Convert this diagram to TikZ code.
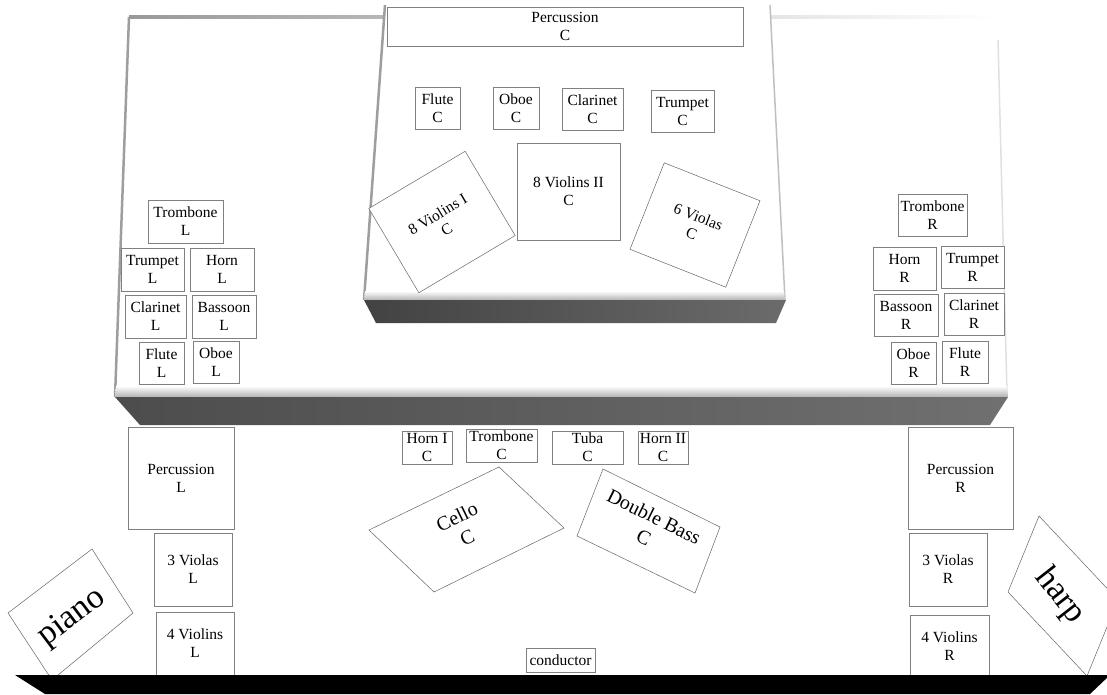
\documentclass[tikz,border=0pt]{standalone}
\usepackage{fontspec}
\setmainfont{Liberation Serif}
\usetikzlibrary{shapes.geometric}
\newcommand{\fnorm}{\fontsize{15.5}{18}\selectfont}
\newcommand{\fbig}{\fontsize{20}{23}\selectfont}
\newcommand{\fhuge}{\fontsize{34}{38}\selectfont}
\tikzset{
  inst/.style={draw=black!50, line width=0.7pt, fill=white, inner sep=0pt, align=center, font=\fnorm},
  rinst/.style={draw=black!60, line width=0.5pt, fill=white, inner sep=0pt, align=center, font=\fnorm},
  shape lines/.style={draw=black!60, line width=0.5pt, fill=white},
  label big/.style={inner sep=0pt, align=center, font=\fbig},
  label huge/.style={inner sep=0pt, align=center, font=\fhuge},
  edge dark/.style={draw=black!38, line width=2.5pt},
  edge light/.style={draw=black!12, line width=1.5pt}
}
\begin{document}
\begin{tikzpicture}[x=1pt,y=-1pt]
\useasboundingbox (0,0) rectangle (1107,694);
\clip (0,0) rectangle (1107,694);
\fill[white] (0,0) rectangle (1107,694);
% ---------- lower riser ----------
\coordinate (LT1) at (129,17);
\coordinate (RT1) at (997,17);
\coordinate (RB1) at (1008,397);
\coordinate (LB1) at (115,397);
\fill[white] (LT1) -- (RT1) -- (RB1) -- (LB1) -- cycle;
\shade[left color=black!40, right color=white] (129,15.5) rectangle (997,18.5);
\draw[edge dark] (LT1) -- (LB1);
\draw[edge light] (998,40) -- (1007,393);
\shade[top color=white, bottom color=black!30] (116,386) -- (1007,386) -- (1008,397) -- (115,397) -- cycle;
\shade[left color=black!70, right color=black!56] (115,397) -- (1008,397) -- (990,425) -- (140,425) -- cycle;
% ---------- upper riser ----------
\coordinate (LT2) at (385,5);
\coordinate (RT2) at (770,5);
\coordinate (RB2) at (785,300);
\coordinate (LB2) at (364,300);
\fill[white] (LT2) -- (RT2) -- (RB2) -- (LB2) -- cycle;
\draw[edge dark] (LT2) -- (LB2);
\draw[draw=black!25, line width=1.5pt] (RT2) -- (RB2);
\shade[top color=white, bottom color=black!30] (365,291) -- (784,291) -- (785,300) -- (364,300) -- cycle;
\shade[left color=black!74, right color=black!58] (364,300) -- (786,300) -- (776,323) -- (376,323) -- cycle;
% ---------- upper riser instruments ----------
\node[inst, minimum width=356pt, minimum height=39pt] (percC) at (565,26.5) {Percussion\\C};
\node[inst, minimum width=45pt, minimum height=42pt] (fluteC) at (437.5,108) {Flute\\C};
\node[inst, minimum width=46pt, minimum height=42pt] (oboeC) at (516,108) {Oboe\\C};
\node[inst, minimum width=61pt, minimum height=42pt] (clarC) at (592.5,109) {Clarinet\\C};
\node[inst, minimum width=63pt, minimum height=42pt] (trumpC) at (682.5,111) {Trumpet\\C};
\node[inst, minimum width=103pt, minimum height=97pt] (vlnIIC) at (568.5,191.5) {8 Violins II\\C};
\node[rinst, minimum width=112pt, minimum height=98pt, rotate=30.7] (vlnIC) at (442,222) {8 Violins I\\C};
\node[rinst, minimum width=103pt, minimum height=93pt, rotate=-21.6] (violasC) at (695,225) {6 Violas\\C};
% ---------- left winds ----------
\node[inst, minimum width=75pt, minimum height=43pt] (tromL) at (185.5,221.5) {Trombone\\L};
\node[inst, minimum width=63pt, minimum height=43pt] (trumpL) at (152.5,269.5) {Trumpet\\L};
\node[inst, minimum width=64pt, minimum height=43pt] (hornL) at (222,269.5) {Horn\\L};
\node[inst, minimum width=61pt, minimum height=43pt] (clarL) at (155.5,316.5) {Clarinet\\L};
\node[inst, minimum width=64pt, minimum height=43pt] (bassL) at (224,316.5) {Bassoon\\L};
\node[inst, minimum width=45pt, minimum height=42pt] (fluteL) at (161.5,363) {Flute\\L};
\node[inst, minimum width=46pt, minimum height=42pt] (oboeL) at (216,362) {Oboe\\L};
% ---------- right winds ----------
\node[inst, minimum width=69pt, minimum height=42pt] (tromR) at (932.5,215) {Trombone\\R};
\node[inst, minimum width=63pt, minimum height=43pt] (hornR) at (904.5,268.5) {Horn\\R};
\node[inst, minimum width=63pt, minimum height=42pt] (trumpR) at (972.5,267) {Trumpet\\R};
\node[inst, minimum width=64pt, minimum height=42pt] (bassR) at (906,315) {Bassoon\\R};
\node[inst, minimum width=60pt, minimum height=42pt] (clarR) at (974,314) {Clarinet\\R};
\node[inst, minimum width=45pt, minimum height=42pt] (oboeR) at (913.5,363) {Oboe\\R};
\node[inst, minimum width=46pt, minimum height=42pt] (fluteR) at (965,362) {Flute\\R};
% ---------- floor ----------
\node[inst, minimum width=106pt, minimum height=102pt] (percL) at (181,478) {Percussion\\L};
\node[inst, minimum width=78pt, minimum height=73pt] (violasL) at (193,569.5) {3 Violas\\L};
\node[inst, minimum width=78pt, minimum height=63pt] (vlnL) at (195,643.5) {4 Violins\\L};
\node[inst, minimum width=105pt, minimum height=102pt] (percR) at (960.5,478) {Percussion\\R};
\node[inst, minimum width=78pt, minimum height=73pt] (violasR) at (948,569.5) {3 Violas\\R};
\node[inst, minimum width=79pt, minimum height=62pt] (vlnR) at (949.5,646) {4 Violins\\R};
\node[inst, minimum width=50pt, minimum height=33pt] (hornIC) at (427,447.5) {Horn I\\C};
\node[inst, minimum width=71pt, minimum height=33pt] (tromC) at (501.5,445.5) {Trombone\\C};
\node[inst, minimum width=71pt, minimum height=33pt] (tubaC) at (587.5,447.5) {Tuba\\C};
\node[inst, minimum width=50pt, minimum height=33pt] (hornIIC) at (663,447.5) {Horn II\\C};
\node[inst, minimum width=69pt, minimum height=24pt] (conductor) at (560.5,660) {conductor};
% cello (parallelogram)
\coordinate (ce1) at (369,530); \coordinate (ce2) at (499,467);
\coordinate (ce3) at (564,528); \coordinate (ce4) at (434,592);
\draw[shape lines] (ce1) -- (ce2) -- (ce3) -- (ce4) -- cycle;
\node[label big, rotate=25.9] (cello) at (462,527) {Cello\\C};
% double bass
\coordinate (db1) at (603,469); \coordinate (db2) at (720,527);
\coordinate (db3) at (695,593); \coordinate (db4) at (577,536);
\draw[shape lines] (db1) -- (db2) -- (db3) -- (db4) -- cycle;
\node[label big, rotate=-26.4] (dbass) at (649,527) {Double Bass\\C};
% piano
\coordinate (pi1) at (8,613); \coordinate (pi2) at (92,549);
\coordinate (pi3) at (133,613); \coordinate (pi4) at (52,680);
\draw[shape lines] (pi1) -- (pi2) -- (pi3) -- (pi4) -- cycle;
\node[label huge, rotate=37] (piano) at (72,618) {piano};
% harp
\coordinate (ha1) at (1008,592); \coordinate (ha2) at (1039,516);
\coordinate (ha3) at (1118,600); \coordinate (ha4) at (1087,676);
\draw[shape lines] (ha1) -- (ha2) -- (ha3) -- (ha4) -- cycle;
\node[label huge, rotate=-52] (harp) at (1060,596) {harp};
% ---------- stage front ----------
\fill[black] (15,675) -- (1110,675) -- (1090,694) -- (45,694) -- cycle;
\end{tikzpicture}
\end{document}
